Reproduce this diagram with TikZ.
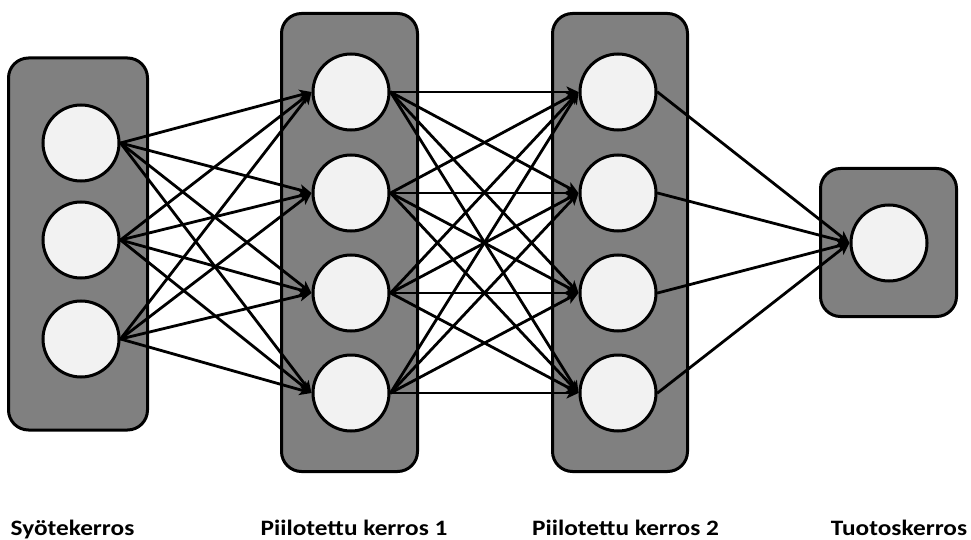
\documentclass[tikz,border=0pt]{standalone}
\usepackage{fontspec}
\setmainfont{Carlito}
\usetikzlibrary{arrows.meta}
\definecolor{boxgray}{HTML}{808080}
\definecolor{nodefill}{HTML}{F2F2F2}
\newcommand{\widelabel}[1]{\scalebox{1.15}[1]{#1}}
\begin{document}
\begin{tikzpicture}[x=1pt,y=-1pt,
  layerbox/.style={draw=black,line width=3pt,fill=boxgray,rounded corners=20pt,inner sep=0pt},
  neuron/.style={circle,draw=black,line width=3pt,fill=nodefill,minimum size=76pt,inner sep=0pt},
  conn/.style={line width=2.8pt,-{Stealth[length=12pt,width=11pt,inset=3pt]},shorten <=-0.5pt},
  lab/.style={font=\fontsize{22}{26}\selectfont\bfseries,anchor=base}]
\useasboundingbox (0,0) rectangle (971,540);
% layer boxes
\node[layerbox,minimum width=139pt,minimum height=372pt] (inbox) at (78,244) {};
\node[layerbox,minimum width=136pt,minimum height=458pt] (h1box) at (349.5,242.5) {};
\node[layerbox,minimum width=135pt,minimum height=458pt] (h2box) at (620,242.5) {};
\node[layerbox,minimum width=136pt,minimum height=148pt] (outbox) at (888.5,242.5) {};
% neurons
\node[neuron] (i1) at (81,143) {};
\node[neuron] (i2) at (81,240) {};
\node[neuron] (i3) at (81,339) {};
\node[neuron] (a1) at (351,92) {};
\node[neuron] (a2) at (351,193) {};
\node[neuron] (a3) at (351,293) {};
\node[neuron] (a4) at (351,393) {};
\node[neuron] (b1) at (618,92) {};
\node[neuron] (b2) at (618,193) {};
\node[neuron] (b3) at (618,293) {};
\node[neuron] (b4) at (618,393) {};
\node[neuron] (o1) at (889,243) {};
% connections
\foreach \s in {i1,i2,i3}{\foreach \t in {a1,a2,a3,a4}{\draw[conn] (\s.east) -- (\t.west);}}
\foreach \s in {a1,a2,a3,a4}{\foreach \t in {b1,b2,b3,b4}{\draw[conn] (\s.east) -- (\t.west);}}
\foreach \s in {b1,b2,b3,b4}{\draw[conn] (\s.east) -- (o1.west);}
% labels
\node[lab] (l1) at (72.5,535) {\widelabel{Syötekerros}};
\node[lab] (l2) at (354,535) {\widelabel{Piilotettu kerros 1}};
\node[lab] (l3) at (625.5,535) {\widelabel{Piilotettu kerros 2}};
\node[lab] (l4) at (899,535) {\widelabel{Tuotoskerros}};
\end{tikzpicture}
\end{document}
